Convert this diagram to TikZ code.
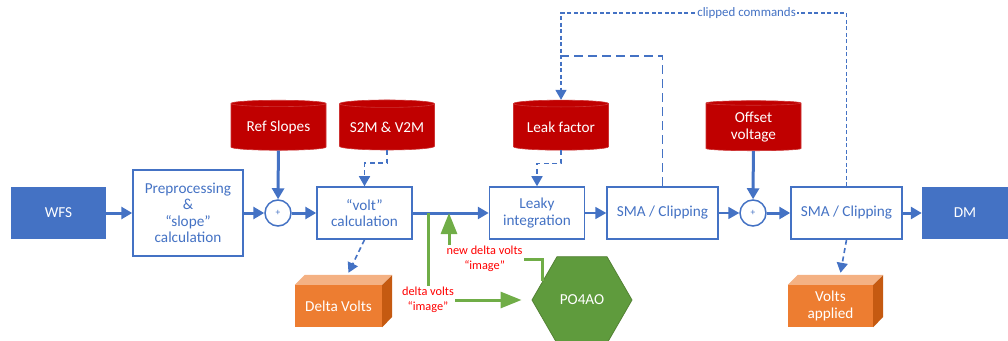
\documentclass[tikz,border=0pt]{standalone}
\usepackage{fontspec}
\setmainfont{Carlito}
\usetikzlibrary{shapes.geometric,arrows.meta,calc}

\definecolor{boxblue}{HTML}{4472C4}
\definecolor{dbred}{HTML}{C00000}
\definecolor{boxorange}{HTML}{ED7D31}
\definecolor{boxorangetop}{HTML}{F4B183}
\definecolor{boxorangeside}{HTML}{C55A11}
\definecolor{aogreen}{HTML}{70AD47}
\definecolor{aogreendark}{HTML}{548235}
\definecolor{aogreenfill}{HTML}{5F9B3D}
\definecolor{labelred}{HTML}{FF0000}

\newcommand{\px}{0.03cm}

\begin{document}
\begin{tikzpicture}[x=0.03cm,y=-0.03cm]
          \tikzset{block/.style={draw=boxblue,line width=1.5*\px,fill=white,text=boxblue,minimum width=#1*\px,minimum height=52*\px,align=center,font=\fontsize{13}{14}\selectfont,inner sep=0pt}}
          \tikzset{io/.style={fill=boxblue,text=white,minimum width=#1*\px,minimum height=52*\px,font=\fontsize{13}{14}\selectfont,inner sep=0pt}}
          \tikzset{db/.style={cylinder,shape border rotate=90,aspect=0.1,fill=dbred,draw=dbred!80!white,line width=0.6*\px,text=white,minimum width=95*\px,minimum height=50*\px,align=center,font=\fontsize{13}{14}\selectfont,inner sep=0pt}}
          \tikzset{sum/.style={draw=boxblue,circle,line width=1.5*\px,fill=white,text=boxblue,minimum size=26*\px,inner sep=0pt,font=\fontsize{8}{9}\selectfont}}
          \tikzset{store/.style={fill=boxorange,text=white,minimum width=#1*\px,minimum height=42*\px,align=center,font=\fontsize{13}{14}\selectfont,inner sep=0pt}}
          \tikzset{flow/.style={draw=boxblue,line width=3*\px,-{Triangle[length=11*\px,width=12*\px]}}}
          \tikzset{flowthin/.style={draw=boxblue,line width=1.8*\px,-{Triangle[length=11*\px,width=12*\px]}}}
          \tikzset{dataflow/.style={draw=boxblue,line width=1.6*\px,dash pattern=on 5*\px off 3.5*\px,-{Triangle[length=10*\px,width=11*\px]}}}
          \tikzset{aoflow/.style={draw=aogreen,line width=3*\px,-{Triangle[length=21*\px,width=16*\px]}}}
          \tikzset{aolabel/.style={fill=white,text=labelred,align=center,inner sep=1pt,font=\fontsize{10.5}{13}\selectfont}}

          \useasboundingbox (0,0) rectangle (1008,341);

          % main chain
          \node [io=95] (wfs) at (58.5,213) {WFS};
          \node [block=110,minimum height=86*\px] (pre) at (188,213) {Preprocessing\\\&\\“slope”\\calculation};
          \node [sum] (sum1) at (278,213) {+};
          \node [block=95] (volt) at (364.5,213) {“volt”\\calculation};
          \node [block=95] (leaky) at (537,213) {Leaky\\integration};
          \node [block=111] (sma1) at (662.5,213) {SMA / Clipping};
          \node [sum] (sum2) at (753,213) {+};
          \node [block=111] (sma2) at (846.5,213) {SMA / Clipping};
          \node [io=86] (dm) at (965,213) {DM};

          % stored data
          \node [db] (ref) at (278.5,127) {Ref Slopes};
          \node [db] (s2m) at (387,127) {S2M \& V2M};
          \node [db] (leak) at (561,127) {Leak factor};
          \node [db] (offset) at (753.5,127) {Offset\\voltage};

          \node [store=87] (dv) at (338.5,306) {Delta Volts};
          \fill [boxorangetop] (dv.north west) -- ++(10,-10) -- ++(87,0) -- (dv.north east) -- cycle;
          \fill [boxorangeside] (dv.north east) -- ++(10,-10) -- ++(0,42) -- (dv.south east) -- cycle;
          \node [store=85] (va) at (830.5,306) {Volts\\applied};
          \fill [boxorangetop] (va.north west) -- ++(10,-10) -- ++(85,0) -- (va.north east) -- cycle;
          \fill [boxorangeside] (va.north east) -- ++(10,-10) -- ++(0,42) -- (va.south east) -- cycle;

          \node [regular polygon,regular polygon sides=6,minimum size=100*\px,inner sep=0pt,fill=aogreenfill,draw=aogreendark,line width=0.8*\px,text=white,font=\fontsize{13}{14}\selectfont] (po4ao) at (582,300) {PO4AO};

          % arrows
          \draw [flow] (wfs) -- (pre);
          \draw [flow] (pre) -- (sum1);
          \draw [flow] (sum1) -- (volt);
          \draw [flow] (ref) -- (sum1);
          \draw [flow] (volt) -- (leaky);
          \draw [flowthin] (leaky) -- (sma1);
          \draw [flowthin] (sma1) -- (sum2);
          \draw [flow] (sum2) -- (sma2);
          \draw [flow] (offset) -- (sum2);
          \draw [flow] (sma2) -- (dm);

          \draw [dataflow] (s2m.south) -- ++(0,13) -| (volt.north);
          \draw [dataflow] (leak.south) -- ++(0,13) -| (leaky.north);
          \draw [dataflow] (volt.south) -- ($(dv.north)+(10,-12)$);
          \draw [dataflow] (sma2.south) -- ($(va.north)+(10,-12)$);
          \draw [dataflow,dash pattern=on 4*\px off 2.5*\px] (sma2.north) -- ++(0,-173) -| node [pos=0.175,fill=white,text=boxblue,inner sep=1pt,font=\fontsize{11}{12}\selectfont] {clipped commands} (leak.north);
          \draw [draw=boxblue,line width=1.6*\px,dash pattern=on 9*\px off 5*\px] (sma1.north) |- ($(leak.north)+(0,-44)$);

          % PO4AO loop
          \coordinate (tap) at (428,213);
          \coordinate (tapback) at (449,213);
          \coordinate (bend) at (449,259);
          \draw [aoflow,shorten >=10*\px] (tap) |- node [aolabel] {delta volts\\“image”} (po4ao.west);
          \draw [aoflow] (po4ao.154) |- node [aolabel,pos=0.81] {new delta volts\\“image”} (bend) -- (tapback);

        \end{tikzpicture}
\end{document}
